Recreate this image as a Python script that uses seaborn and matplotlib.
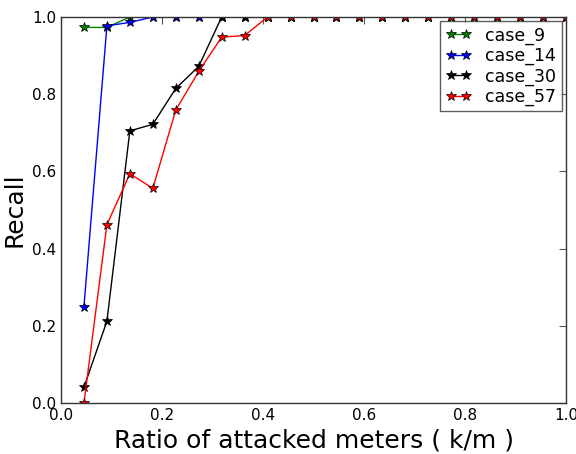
import numpy as np
import pandas as pd
import matplotlib
matplotlib.use("Agg")
import matplotlib.pyplot as plt
import seaborn as sns

ratio = [k / 22 for k in range(1, 23)]
case_9 = [0.973, 0.973] + [1.0] * 20
case_14 = [0.250, 0.977, 0.986] + [1.0] * 19
case_30 = [0.041, 0.212, 0.705, 0.722, 0.815, 0.872] + [1.0] * 16
case_57 = [0.0, 0.462, 0.594, 0.556, 0.759, 0.859, 0.948, 0.952] + [1.0] * 14
names = ["case_9", "case_14", "case_30", "case_57"]
colors = ["#008000", "#0000ff", "#000000", "#ff0000"]

frames = []
for n, vals in zip(names, [case_9, case_14, case_30, case_57]):
    frames.append(pd.DataFrame({"ratio": ratio, "recall": vals, "case": n}))
df = pd.concat(frames, ignore_index=True)

sns.set_style("white")
plt.rcParams["font.family"] = ["DejaVu Sans"]

fig = plt.figure(figsize=(5.76, 4.54), dpi=100)
ax = fig.add_axes([61 / 576, 51 / 454, 505 / 576, 386 / 454])
sns.lineplot(data=df, x="ratio", y="recall", hue="case", palette=colors,
             hue_order=names, marker="*", markersize=7, markeredgecolor="black",
             markeredgewidth=0.5, linewidth=1.0, ax=ax)
ax.set_xlim(0, 1.0)
ax.set_ylim(0, 1.0)
ax.set_xticks(np.arange(0, 1.01, 0.2))
ax.set_yticks(np.arange(0, 1.01, 0.2))
ax.set_xticklabels([f"{v:.1f}" for v in np.arange(0, 1.01, 0.2)])
ax.set_yticklabels([f"{v:.1f}" for v in np.arange(0, 1.01, 0.2)])
ax.tick_params(direction="in", top=True, right=True, labelsize=11, length=5,
               color="#555555", labelcolor="black")
for s in ax.spines.values():
    s.set_visible(True)
    s.set_color("#333333")
    s.set_linewidth(1.0)
ax.set_xlabel("Ratio of attacked meters ( k/m )", fontsize=18, color="black")
ax.set_ylabel("Recall", fontsize=18, color="black")
handles, labels = ax.get_legend_handles_labels()
leg = ax.legend(handles, labels, loc="upper right", fontsize=12.5, frameon=True,
                fancybox=False, handlelength=1.5, borderpad=0.3,
                labelspacing=0.12, borderaxespad=0.25, numpoints=2,
                handletextpad=0.8)
leg.get_frame().set_edgecolor("#333333")
leg.get_frame().set_linewidth(1.0)
for t in leg.get_texts():
    t.set_color("black")
fig.savefig("out.png", dpi=100)
